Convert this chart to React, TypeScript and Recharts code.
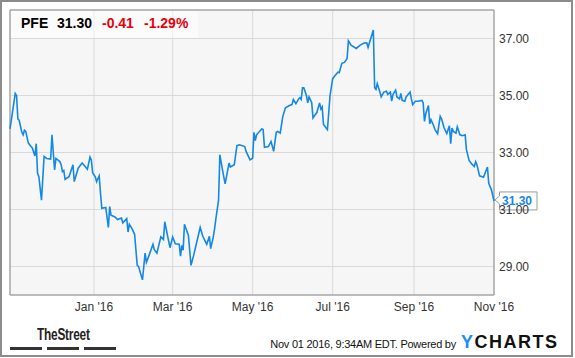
import React from 'react';
import { LineChart, Line, XAxis, YAxis, CartesianGrid, ReferenceArea, ReferenceDot } from 'recharts';

const ticker = 'PFE';
const changeAbs = '-0.41';
const changePct = '-1.29%';
const stamp = 'Nov 01 2016, 9:34AM EDT.';

// daily closes (approx.)
const dates = [
  '2015-10-29', '2015-11-02', '2015-11-03', '2015-11-04', '2015-11-05', '2015-11-06', '2015-11-07', '2015-11-08',
  '2015-11-09', '2015-11-10', '2015-11-12', '2015-11-14', '2015-11-15', '2015-11-17', '2015-11-18', '2015-11-19',
  '2015-11-20', '2015-11-22', '2015-11-24', '2015-11-26', '2015-11-29', '2015-11-30', '2015-12-02', '2015-12-03',
  '2015-12-06', '2015-12-07', '2015-12-08', '2015-12-09', '2015-12-10', '2015-12-13', '2015-12-16', '2015-12-17',
  '2015-12-20', '2015-12-23', '2015-12-27', '2015-12-29', '2015-12-30', '2015-12-31', '2016-01-02', '2016-01-03',
  '2016-01-05', '2016-01-06', '2016-01-07', '2016-01-10', '2016-01-12', '2016-01-13', '2016-01-14', '2016-01-17',
  '2016-01-19', '2016-01-22', '2016-01-23', '2016-01-26', '2016-01-27', '2016-01-28', '2016-01-30', '2016-02-01',
  '2016-02-03', '2016-02-04', '2016-02-07', '2016-02-09', '2016-02-10', '2016-02-12', '2016-02-15', '2016-02-16',
  '2016-02-18', '2016-02-21', '2016-02-23', '2016-02-24', '2016-02-26', '2016-02-28', '2016-03-01', '2016-03-03',
  '2016-03-06', '2016-03-07', '2016-03-08', '2016-03-09', '2016-03-10', '2016-03-13', '2016-03-15', '2016-03-17',
  '2016-03-22', '2016-03-24', '2016-03-27', '2016-03-29', '2016-03-30', '2016-04-01', '2016-04-02', '2016-04-03',
  '2016-04-05', '2016-04-06', '2016-04-08', '2016-04-10', '2016-04-13', '2016-04-14', '2016-04-17', '2016-04-19',
  '2016-04-21', '2016-04-25', '2016-04-26', '2016-04-29', '2016-05-01', '2016-05-02', '2016-05-03', '2016-05-04',
  '2016-05-08', '2016-05-09', '2016-05-10', '2016-05-13', '2016-05-15', '2016-05-17', '2016-05-19', '2016-05-20',
  '2016-05-22', '2016-05-24', '2016-05-26', '2016-05-29', '2016-05-31', '2016-06-01', '2016-06-03', '2016-06-05',
  '2016-06-06', '2016-06-07', '2016-06-08', '2016-06-09', '2016-06-11', '2016-06-12', '2016-06-13', '2016-06-15',
  '2016-06-16', '2016-06-19', '2016-06-21', '2016-06-22', '2016-06-23', '2016-06-24', '2016-06-26', '2016-06-27',
  '2016-06-29', '2016-07-01', '2016-07-03', '2016-07-05', '2016-07-06', '2016-07-08', '2016-07-10', '2016-07-12',
  '2016-07-13', '2016-07-15', '2016-07-19', '2016-07-22', '2016-07-25', '2016-07-27', '2016-07-28', '2016-08-01',
  '2016-08-02', '2016-08-03', '2016-08-04', '2016-08-06', '2016-08-07', '2016-08-09', '2016-08-11', '2016-08-12',
  '2016-08-14', '2016-08-15', '2016-08-16', '2016-08-18', '2016-08-19', '2016-08-21', '2016-08-22', '2016-08-23',
  '2016-08-25', '2016-08-26', '2016-08-29', '2016-08-30', '2016-08-31', '2016-09-02', '2016-09-04', '2016-09-07',
  '2016-09-08', '2016-09-09', '2016-09-10', '2016-09-12', '2016-09-13', '2016-09-14', '2016-09-16', '2016-09-17',
  '2016-09-19', '2016-09-21', '2016-09-22', '2016-09-24', '2016-09-26', '2016-09-28', '2016-09-29', '2016-09-30',
  '2016-10-01', '2016-10-03', '2016-10-04', '2016-10-06', '2016-10-08', '2016-10-10', '2016-10-11', '2016-10-13',
  '2016-10-15', '2016-10-17', '2016-10-18', '2016-10-19', '2016-10-21', '2016-10-24', '2016-10-27', '2016-10-28',
  '2016-10-29', '2016-10-30', '2016-11-01',
];

const prices = [
  33.83, 35.07, 35.0, 34.18, 34.13, 33.92, 33.71, 33.62,
  33.78, 33.74, 33.33, 33.21, 33.16, 32.88, 33.31, 32.27,
  32.15, 31.33, 32.86, 32.79, 32.77, 33.62, 32.39, 32.79,
  32.68, 32.57, 32.33, 32.37, 32.06, 32.15, 32.57, 31.98,
  32.45, 32.63, 32.41, 32.84, 32.74, 32.29, 32.15, 31.98,
  32.18, 31.57, 31.04, 31.07, 30.37, 31.1, 30.8, 30.74,
  30.65, 30.7, 30.53, 30.68, 30.21, 30.48, 30.33, 30.13,
  29.04, 29.0, 28.53, 29.47, 29.15, 29.39, 29.78, 29.59,
  29.47, 30.04, 29.95, 30.57, 30.1, 29.66, 30.04, 29.8,
  29.78, 29.36, 29.74, 29.57, 30.48, 30.1, 29.04, 29.39,
  30.37, 30.06, 29.78, 30.06, 29.63, 30.04, 30.33, 30.69,
  31.33, 32.92, 32.39, 31.9, 32.63, 32.49, 32.57, 33.24,
  33.27, 33.21, 33.04, 32.74, 32.8, 33.71, 33.42, 33.62,
  33.83, 33.8, 33.18, 33.21, 33.39, 33.04, 33.71, 33.74,
  33.68, 34.27, 34.57, 34.65, 34.68, 34.86, 34.71, 34.88,
  34.92, 34.86, 35.27, 35.27, 35.0, 34.74, 34.95, 34.76,
  34.21, 34.41, 34.74, 34.53, 34.6, 33.98, 33.86, 33.8,
  35.0, 35.59, 35.71, 35.82, 35.8, 36.13, 36.16, 36.3,
  36.92, 36.77, 36.65, 36.77, 36.84, 36.85, 36.69, 37.3,
  35.27, 35.21, 35.42, 35.12, 34.95, 35.12, 35.15, 35.04,
  35.12, 34.8, 35.04, 35.19, 34.95, 34.88, 35.07, 34.83,
  34.8, 34.95, 35.12, 34.88, 34.68, 34.8, 34.8, 34.83,
  34.74, 34.09, 34.37, 34.65, 34.01, 34.15, 33.94, 33.8,
  33.66, 34.27, 34.18, 33.86, 33.66, 33.94, 33.31, 33.86,
  33.74, 33.68, 33.9, 33.62, 33.59, 33.62, 33.1, 32.72,
  32.6, 32.51, 32.68, 32.57, 32.18, 32.13, 32.49, 31.92,
  31.8, 31.7, 31.3,
];

const xTickDates = ['2016-01-01', '2016-03-01', '2016-05-01', '2016-07-01', '2016-09-01', '2016-11-01'];
const xTickLabels = ["Jan '16", "Mar '16", "May '16", "Jul '16", "Sep '16", "Nov '16"];
const yTicks = [29, 31, 33, 35, 37];
const xStart = '2015-10-29';
const xEnd = '2016-11-01';
const yMin = 28;
const yMax = 38;

const data = dates.map((d, i) => ({ t: Date.parse(d), price: prices[i] }));
const xTicks = xTickDates.map((d) => Date.parse(d));
const lastPrice = prices[prices.length - 1];

const FONT = "'Liberation Sans', Arial, sans-serif";
const BLUE = '#1488e6';

const fmtX = (v: number) => {
  const i = xTicks.indexOf(v);
  return i >= 0 ? xTickLabels[i] : '';
};

// little price flag hanging off the right edge
const LastTag = (props: any) => {
  const { cx, cy } = props;
  if (cx == null || cy == null) return null;
  const d = `M${cx + 1},${cy - 1} L${cx + 5.5},${cy - 5} L${cx + 5.5},${cy - 9} L${cx + 43},${cy - 9} L${cx + 43},${cy + 9} L${cx + 5.5},${cy + 9} L${cx + 5.5},${cy + 3} Z`;
  return (
    <g>
      <path d={d} fill="#fff" stroke="#9a9a9a" strokeWidth={1} />
      <text x={cx + 8} y={cy} dy="0.36em" fill={BLUE} fontSize={12} fontWeight="bold" fontFamily={FONT}>
        {lastPrice.toFixed(2)}
      </text>
    </g>
  );
};

export default function App() {
  return (
    <div style={{ position: 'absolute', left: 0, top: 0, width: 575, height: 358, background: '#fff', fontFamily: FONT }}>
      <LineChart
        width={575}
        height={358}
        data={data}
        margin={{ top: 10, right: 0, bottom: 0, left: 10 }}
        style={{ position: 'absolute', left: 0, top: 0 }}
      >
        <CartesianGrid fill="#f6f6f6" stroke="#d9d9d9" strokeWidth={1} />
        <XAxis
          dataKey="t"
          type="number"
          domain={[Date.parse(xStart), Date.parse(xEnd)]}
          ticks={xTicks}
          tickFormatter={fmtX}
          interval={0}
          height={63}
          axisLine={false}
          tickLine={false}
          tickSize={0}
          tickMargin={7}
          tick={{ fill: '#333', fontSize: 12, fontFamily: FONT }}
        />
        <YAxis
          orientation="right"
          type="number"
          domain={[yMin, yMax]}
          ticks={yTicks}
          tickFormatter={(v: number) => v.toFixed(2)}
          width={81}
          axisLine={false}
          tickLine={false}
          tickSize={0}
          tickMargin={5}
          tick={{ fill: '#333', fontSize: 12, fontFamily: FONT, textAnchor: 'start' }}
        />
        <ReferenceArea
          x1={Date.parse(xStart)}
          x2={Date.parse(xEnd)}
          y1={yMin}
          y2={yMax}
          fill="none"
          stroke="#8c8c8c"
          strokeWidth={1}
        />
        <Line
          type="linear"
          dataKey="price"
          stroke={BLUE}
          strokeWidth={1.6}
          dot={false}
          activeDot={false}
          isAnimationActive={false}
        />
        <ReferenceDot
          x={data[data.length - 1].t}
          y={lastPrice}
          r={0}
          shape={(p: any) => <LastTag {...p} />}
        />
      </LineChart>

      {/* quote header */}
      <div style={{ position: 'absolute', left: 11, top: 11, width: 187, height: 27, background: 'rgba(255,255,255,0.5)' }} />
      <div style={{ position: 'absolute', left: 0, top: 16, height: 14, fontSize: 14, lineHeight: '14px', fontWeight: 'bold', whiteSpace: 'nowrap' }}>
        <span style={{ position: 'absolute', left: 21, color: '#000' }}>{ticker}</span>
        <span style={{ position: 'absolute', left: 57, color: '#000' }}>{lastPrice.toFixed(2)}</span>
        <span style={{ position: 'absolute', left: 102, color: '#e8000b' }}>{changeAbs}</span>
        <span style={{ position: 'absolute', left: 144, color: '#e8000b' }}>{changePct}</span>
      </div>

      {/* footer */}
      <div style={{ position: 'absolute', left: 37, top: 327, fontSize: 16, lineHeight: '16px', fontWeight: 'bold', color: '#222', letterSpacing: -0.3, whiteSpace: 'nowrap', transform: 'scaleX(0.74)', transformOrigin: 'left top' }}>
        TheStreet
      </div>
      <div style={{ position: 'absolute', left: 10, top: 347, width: 32, height: 3, background: '#333' }} />
      <div style={{ position: 'absolute', left: 47, top: 347, width: 32, height: 3, background: '#333' }} />
      <div style={{ position: 'absolute', left: 84, top: 347, width: 32, height: 3, background: '#333' }} />

      <div style={{ position: 'absolute', right: 119, top: 338.5, fontSize: 11, lineHeight: '11px', color: '#111', letterSpacing: -0.25, whiteSpace: 'nowrap' }}>
        {stamp} Powered by
      </div>
      <div style={{ position: 'absolute', left: 461, top: 333, fontSize: 18, lineHeight: '18px', fontWeight: 'bold', color: '#111', letterSpacing: 1.5, whiteSpace: 'nowrap' }}>
        <span style={{ color: '#1a8cff' }}>Y</span>CHARTS
      </div>

      {/* outer frame */}
      <div style={{ position: 'absolute', left: 0, top: 0, width: 573, height: 357, border: '2px solid #8c8c8c', boxSizing: 'border-box', pointerEvents: 'none' }} />
    </div>
  );
}
